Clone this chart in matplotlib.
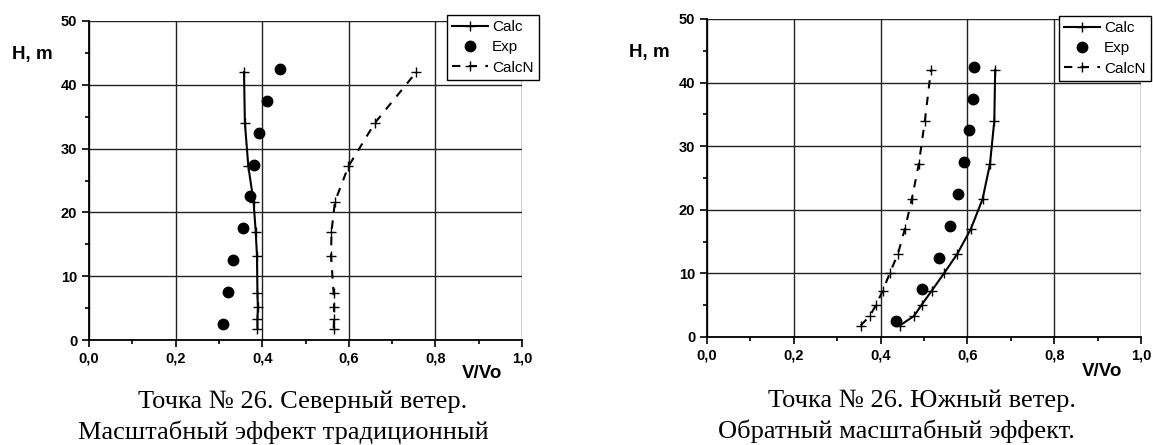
import matplotlib
matplotlib.use("Agg")
import matplotlib.pyplot as plt
from matplotlib.ticker import MultipleLocator, FuncFormatter

# heights (m) of calculated points
h_calc_north = [1.8, 3.3, 5.1, 7.3, 13.1, 17.0, 21.7, 27.2, 34.0, 42.0]
h_calc_south = [1.8, 3.3, 5.1, 7.3, 10.0, 13.1, 17.0, 21.7, 27.2, 34.0, 42.0]
# heights of experimental points
h_exp = [2.5, 7.5, 12.5, 17.5, 22.5, 27.5, 32.5, 37.5, 42.5]

# north wind
calc_north = [0.389, 0.389, 0.390, 0.389, 0.388, 0.385, 0.380, 0.368, 0.360, 0.358]
calcn_north = [0.565, 0.566, 0.566, 0.565, 0.559, 0.560, 0.568, 0.599, 0.660, 0.756]
exp_north = [0.309, 0.320, 0.333, 0.356, 0.371, 0.382, 0.392, 0.410, 0.441]

# south wind
calc_south = [0.444, 0.477, 0.495, 0.518, 0.546, 0.577, 0.608, 0.635, 0.652, 0.662, 0.664]
calcn_south = [0.354, 0.375, 0.390, 0.405, 0.421, 0.440, 0.456, 0.472, 0.488, 0.502, 0.516]
exp_south = [0.435, 0.496, 0.534, 0.559, 0.579, 0.593, 0.604, 0.612, 0.616]

captions = [
    ["Точка № 26. Северный ветер.", "Масштабный эффект традиционный"],
    ["Точка № 26. Южный ветер.", "Обратный масштабный эффект."],
]

plt.rcParams['font.family'] = ['Liberation Sans', 'DejaVu Sans']

W, H = 1153, 445
fig = plt.figure(figsize=(W / 100, H / 100), dpi=100)


def fx(px):
    return px / W


def fy(py):
    return 1 - py / H


def draw_panel(ax, h_calc, calc, calcn, exp):
    ax.plot(calc, h_calc, color='black', linestyle='-', linewidth=1.5,
            marker='+', markersize=7, markeredgewidth=1, label='Calc')
    ax.plot(exp, h_exp, linestyle='none', marker='o', markersize=7.5,
            color='black', label='Exp')
    ax.plot(calcn, h_calc, color='black', linestyle=(0, (4, 4)), linewidth=1.5,
            marker='+', markersize=7, markeredgewidth=1, label='CalcN')

    ax.set_xlim(0, 1.0)
    ax.set_ylim(0, 50)
    ax.xaxis.set_major_locator(MultipleLocator(0.2))
    ax.xaxis.set_minor_locator(MultipleLocator(0.1))
    ax.yaxis.set_major_locator(MultipleLocator(10))
    ax.yaxis.set_minor_locator(MultipleLocator(5))
    ax.xaxis.set_major_formatter(FuncFormatter(lambda v, p: f"{v:.1f}".replace('.', ',')))
    ax.yaxis.set_major_formatter(FuncFormatter(lambda v, p: f"{v:.0f}"))
    ax.tick_params(which='major', direction='out', length=5, width=1.2,
                   labelsize=10.5)
    ax.tick_params(which='minor', direction='out', length=3, width=1.2)
    for lab in ax.get_xticklabels() + ax.get_yticklabels():
        lab.set_fontweight('bold')
    ax.grid(True, which='major', color='#222222', linewidth=1)
    ax.spines['top'].set_visible(False)
    ax.spines['right'].set_visible(False)
    ax.spines['left'].set_linewidth(1.3)
    ax.spines['bottom'].set_linewidth(1.3)
    ax.set_axisbelow(True)


legend_kw = dict(loc='upper right', bbox_transform=fig.transFigure, fontsize=11,
                 frameon=True, fancybox=False, edgecolor='black', framealpha=1,
                 handlelength=2.3, borderpad=0.35, labelspacing=0.4,
                 handletextpad=0.3, borderaxespad=0)

# left panel: north wind
ax1 = fig.add_axes([fx(89), fy(340), fx(433), 319 / H])
draw_panel(ax1, h_calc_north, calc_north, calcn_north, exp_north)
ax1.legend(bbox_to_anchor=(fx(539), fy(15)), **legend_kw)

# right panel: south wind
ax2 = fig.add_axes([fx(707), fy(337), fx(434), 318 / H])
draw_panel(ax2, h_calc_south, calc_south, calcn_south, exp_south)
ax2.legend(bbox_to_anchor=(fx(1151), fy(16)), **legend_kw)

# axis labels
fig.text(fx(32), fy(55), "H, m", fontsize=13.5, fontweight='bold', ha='center', va='center')
fig.text(fx(649), fy(53), "H, m", fontsize=13.5, fontweight='bold', ha='center', va='center')
fig.text(fx(482), fy(373), "V/Vo", fontsize=13.5, fontweight='bold', ha='center', va='center')
fig.text(fx(1102), fy(372), "V/Vo", fontsize=13.5, fontweight='bold', ha='center', va='center')

# captions
serif = ['Liberation Serif', 'DejaVu Serif']
fig.text(fx(303), fy(408), captions[0][0], fontsize=19, family=serif, ha='center', va='baseline')
fig.text(fx(283), fy(439), captions[0][1], fontsize=19, family=serif, ha='center', va='baseline')
fig.text(fx(922), fy(407), captions[1][0], fontsize=19, family=serif, ha='center', va='baseline')
fig.text(fx(896), fy(438), captions[1][1], fontsize=19, family=serif, ha='center', va='baseline')

fig.savefig("out.png", dpi=100)
